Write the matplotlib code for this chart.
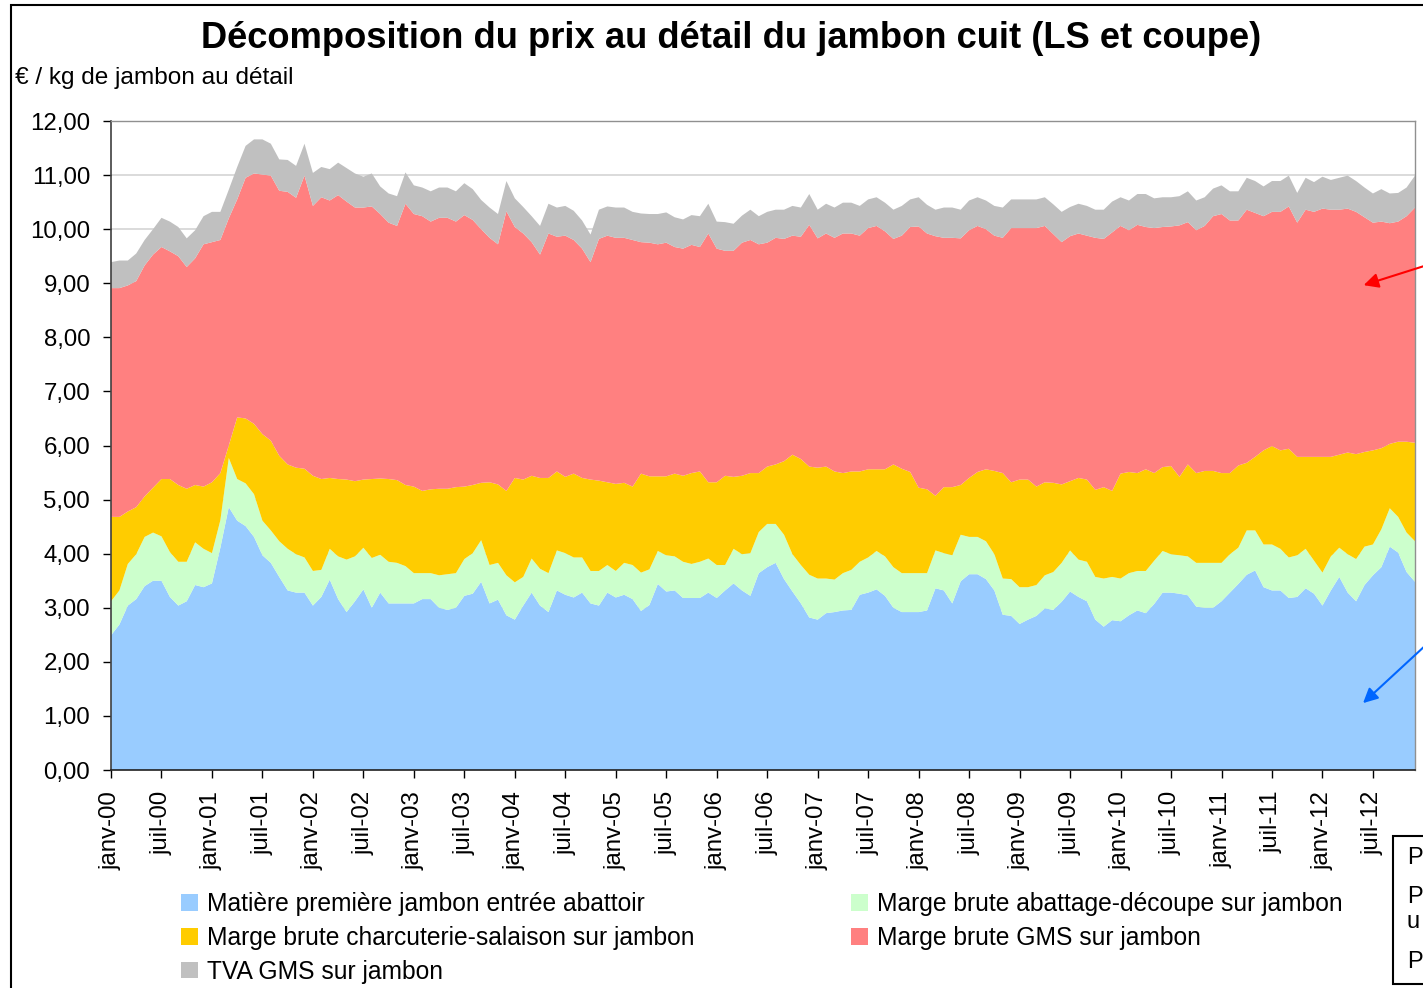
import matplotlib
matplotlib.use("Agg")
import matplotlib.pyplot as plt
from matplotlib.patches import Rectangle
import numpy as np

plt.rcParams['font.family'] = ['Liberation Sans', 'DejaVu Sans']

# Monthly data, janv-00 .. déc-12 (cumulative tops)
blue_top = [2.49, 2.69, 3.04, 3.16, 3.40, 3.50, 3.50, 3.20, 3.04, 3.12, 3.42, 3.38,
            3.45, 4.11, 4.86, 4.61, 4.51, 4.31, 3.97, 3.83, 3.57, 3.32, 3.28, 3.28,
            3.04, 3.20, 3.52, 3.16, 2.92, 3.12, 3.34, 3.00, 3.28, 3.08, 3.08, 3.08,
            3.08, 3.16, 3.16, 3.00, 2.96, 3.00, 3.22, 3.26, 3.48, 3.08, 3.15, 2.86,
            2.78, 3.04, 3.28, 3.04, 2.92, 3.32, 3.24, 3.19, 3.28, 3.08, 3.04, 3.28,
            3.19, 3.24, 3.16, 2.94, 3.05, 3.44, 3.30, 3.32, 3.18, 3.18, 3.18, 3.28,
            3.18, 3.32, 3.45, 3.32, 3.22, 3.64, 3.75, 3.83, 3.53, 3.30, 3.08, 2.82,
            2.78, 2.90, 2.92, 2.95, 2.96, 3.24, 3.28, 3.34, 3.22, 3.00, 2.92, 2.92,
            2.92, 2.95, 3.36, 3.32, 3.08, 3.49, 3.62, 3.62, 3.53, 3.32, 2.87, 2.85,
            2.70, 2.78, 2.85, 2.99, 2.96, 3.11, 3.30, 3.20, 3.12, 2.78, 2.65, 2.77,
            2.75, 2.86, 2.95, 2.90, 3.07, 3.28, 3.28, 3.26, 3.23, 3.02, 3.00, 3.00,
            3.12, 3.28, 3.44, 3.61, 3.69, 3.38, 3.32, 3.32, 3.18, 3.20, 3.36, 3.26,
            3.04, 3.32, 3.57, 3.28, 3.12, 3.42, 3.60, 3.75, 4.13, 4.02, 3.66, 3.48]

green_top = [3.12, 3.32, 3.81, 3.99, 4.31, 4.39, 4.32, 4.03, 3.85, 3.85, 4.21, 4.09,
             4.01, 4.62, 5.77, 5.38, 5.30, 5.10, 4.61, 4.43, 4.23, 4.09, 3.99, 3.93,
             3.68, 3.70, 4.09, 3.95, 3.89, 3.95, 4.11, 3.92, 3.98, 3.85, 3.83, 3.77,
             3.64, 3.64, 3.64, 3.60, 3.62, 3.64, 3.90, 4.01, 4.25, 3.79, 3.83, 3.60,
             3.47, 3.57, 3.91, 3.72, 3.64, 4.06, 4.01, 3.93, 3.93, 3.68, 3.68, 3.79,
             3.68, 3.83, 3.79, 3.65, 3.71, 4.05, 3.97, 3.95, 3.85, 3.81, 3.85, 3.91,
             3.79, 3.79, 4.09, 3.99, 4.01, 4.40, 4.55, 4.55, 4.35, 3.99, 3.79, 3.61,
             3.54, 3.54, 3.52, 3.64, 3.70, 3.85, 3.93, 4.05, 3.95, 3.75, 3.64, 3.64,
             3.64, 3.64, 4.06, 4.01, 3.97, 4.35, 4.31, 4.31, 4.23, 3.99, 3.54, 3.53,
             3.38, 3.38, 3.42, 3.60, 3.66, 3.83, 4.06, 3.89, 3.85, 3.57, 3.54, 3.57,
             3.54, 3.64, 3.68, 3.68, 3.87, 4.05, 3.99, 3.97, 3.95, 3.83, 3.83, 3.83,
             3.83, 3.99, 4.11, 4.43, 4.43, 4.17, 4.17, 4.09, 3.93, 3.97, 4.09, 3.87,
             3.65, 3.95, 4.11, 3.99, 3.90, 4.13, 4.17, 4.45, 4.84, 4.68, 4.39, 4.23]

yellow_top = [4.68, 4.68, 4.78, 4.86, 5.06, 5.22, 5.38, 5.38, 5.27, 5.20, 5.27, 5.24,
              5.32, 5.49, 6.00, 6.52, 6.50, 6.40, 6.21, 6.09, 5.81, 5.65, 5.59, 5.57,
              5.44, 5.38, 5.40, 5.38, 5.37, 5.34, 5.37, 5.38, 5.39, 5.38, 5.36, 5.27,
              5.24, 5.16, 5.19, 5.20, 5.20, 5.23, 5.24, 5.27, 5.31, 5.32, 5.28, 5.16,
              5.40, 5.37, 5.44, 5.40, 5.40, 5.52, 5.42, 5.48, 5.40, 5.37, 5.35, 5.32,
              5.29, 5.31, 5.24, 5.48, 5.43, 5.43, 5.43, 5.48, 5.44, 5.49, 5.52, 5.32,
              5.32, 5.44, 5.42, 5.44, 5.49, 5.49, 5.61, 5.65, 5.71, 5.83, 5.75, 5.61,
              5.59, 5.61, 5.52, 5.49, 5.52, 5.52, 5.56, 5.56, 5.56, 5.65, 5.57, 5.51,
              5.22, 5.19, 5.07, 5.23, 5.23, 5.27, 5.40, 5.51, 5.56, 5.53, 5.49, 5.32,
              5.37, 5.37, 5.24, 5.32, 5.31, 5.28, 5.34, 5.40, 5.37, 5.18, 5.23, 5.16,
              5.48, 5.51, 5.49, 5.56, 5.49, 5.60, 5.62, 5.42, 5.65, 5.49, 5.53, 5.53,
              5.49, 5.49, 5.63, 5.68, 5.79, 5.91, 5.99, 5.91, 5.94, 5.79, 5.79, 5.79,
              5.79, 5.79, 5.83, 5.87, 5.84, 5.88, 5.91, 5.95, 6.03, 6.07, 6.07, 6.05]

red_top = [8.91, 8.91, 8.96, 9.04, 9.33, 9.53, 9.67, 9.59, 9.50, 9.30, 9.46, 9.72,
           9.76, 9.80, 10.20, 10.55, 10.95, 11.03, 11.01, 10.99, 10.71, 10.69, 10.58, 10.99,
           10.43, 10.59, 10.53, 10.63, 10.51, 10.40, 10.40, 10.42, 10.28, 10.12, 10.06, 10.47,
           10.28, 10.24, 10.14, 10.21, 10.21, 10.14, 10.26, 10.17, 10.00, 9.84, 9.72, 10.33,
           10.04, 9.92, 9.76, 9.53, 9.92, 9.86, 9.88, 9.80, 9.64, 9.39, 9.82, 9.88,
           9.84, 9.84, 9.80, 9.76, 9.75, 9.72, 9.75, 9.67, 9.64, 9.71, 9.67, 9.92,
           9.64, 9.60, 9.60, 9.75, 9.80, 9.72, 9.75, 9.84, 9.82, 9.88, 9.86, 10.08,
           9.83, 9.92, 9.84, 9.92, 9.92, 9.88, 10.02, 10.06, 9.96, 9.82, 9.88, 10.04,
           10.05, 9.92, 9.87, 9.84, 9.84, 9.83, 9.98, 10.06, 10.00, 9.88, 9.84, 10.02,
           10.02, 10.02, 10.02, 10.06, 9.91, 9.76, 9.87, 9.92, 9.88, 9.84, 9.82, 9.94,
           10.06, 9.98, 10.08, 10.04, 10.02, 10.04, 10.05, 10.07, 10.13, 9.98, 10.06, 10.24,
           10.28, 10.16, 10.16, 10.36, 10.30, 10.24, 10.32, 10.32, 10.42, 10.12, 10.36, 10.32,
           10.38, 10.36, 10.36, 10.38, 10.32, 10.22, 10.12, 10.14, 10.11, 10.14, 10.24, 10.40]

total_top = [9.39, 9.42, 9.42, 9.55, 9.80, 10.00, 10.21, 10.14, 10.04, 9.83, 9.98, 10.24,
             10.32, 10.32, 10.73, 11.15, 11.54, 11.66, 11.66, 11.58, 11.29, 11.28, 11.17, 11.58,
             11.04, 11.15, 11.11, 11.23, 11.13, 11.03, 10.97, 11.03, 10.79, 10.66, 10.61, 11.05,
             10.81, 10.77, 10.70, 10.77, 10.77, 10.70, 10.85, 10.74, 10.54, 10.40, 10.28, 10.89,
             10.57, 10.41, 10.24, 10.06, 10.47, 10.40, 10.43, 10.34, 10.16, 9.90, 10.36, 10.42,
             10.40, 10.40, 10.32, 10.29, 10.28, 10.28, 10.31, 10.22, 10.18, 10.26, 10.24, 10.47,
             10.14, 10.13, 10.10, 10.25, 10.36, 10.24, 10.32, 10.36, 10.36, 10.43, 10.40, 10.65,
             10.36, 10.47, 10.40, 10.49, 10.49, 10.43, 10.55, 10.59, 10.49, 10.36, 10.43, 10.55,
             10.59, 10.45, 10.36, 10.40, 10.40, 10.36, 10.53, 10.59, 10.53, 10.43, 10.40, 10.55,
             10.55, 10.55, 10.55, 10.59, 10.46, 10.32, 10.41, 10.47, 10.43, 10.36, 10.36, 10.51,
             10.59, 10.53, 10.65, 10.65, 10.57, 10.59, 10.59, 10.61, 10.70, 10.53, 10.59, 10.75,
             10.81, 10.70, 10.70, 10.95, 10.89, 10.79, 10.89, 10.89, 10.99, 10.67, 10.95, 10.87,
             10.97, 10.91, 10.95, 10.99, 10.89, 10.77, 10.66, 10.74, 10.66, 10.67, 10.77, 10.99]

series_labels = ["Matière première jambon entrée abattoir",
                 "Marge brute abattage-découpe sur jambon",
                 "Marge brute charcuterie-salaison sur jambon",
                 "Marge brute GMS sur jambon",
                 "TVA GMS sur jambon"]
series_colors = ["#99CCFF", "#CCFFCC", "#FFCC00", "#FF8080", "#C0C0C0"]

tick_years = ["00", "01", "02", "03", "04", "05", "06", "07", "08", "09", "10", "11", "12"]
tick_labels = []
for yy in tick_years:
    tick_labels += ["janv-" + yy, "juil-" + yy]

y_ticks = [0, 1, 2, 3, 4, 5, 6, 7, 8, 9, 10, 11, 12]

# ---- derive component series from cumulative tops
B = np.array(blue_top)
G = np.array(green_top)
Y = np.array(yellow_top)
R = np.array(red_top)
T = np.array(total_top)
components = [B, G - B, Y - G, R - Y, T - R]
months = np.arange(len(B))

W, H = 1423, 988
fig = plt.figure(figsize=(W / 100, H / 100), dpi=100)
ax = fig.add_axes([111 / W, 1 - 770 / H, (1415 - 111) / W, (770 - 121) / H])

ax.set_axisbelow(True)
ax.yaxis.grid(True, color="#D4D4D4", lw=1.2)
polys = ax.stackplot(months, *components, colors=series_colors, linewidth=0,
                     labels=series_labels)

ax.set_xlim(0, len(B) - 1)
ax.set_ylim(0, 12)
ax.set_yticks(y_ticks)
ax.set_yticklabels([f"{v:.2f}".replace(".", ",") for v in y_ticks])
ax.set_xticks(np.arange(0, 6 * len(tick_labels), 6))
ax.set_xticklabels(tick_labels, rotation=90)
ax.tick_params(axis="y", labelsize=17.3, length=6, width=1, pad=9, direction="out")
ax.tick_params(axis="x", labelsize=17.3, length=6, width=1, pad=9, direction="out")

for s in ["top", "right"]:
    ax.spines[s].set_color("#909090")
    ax.spines[s].set_linewidth(1)
ax.spines["left"].set_color("#404040")
ax.spines["bottom"].set_color("#202020")
ax.spines["left"].set_linewidth(1.2)
ax.spines["bottom"].set_linewidth(1.2)

fig.text(731 / W, 1 - 39 / H, "Décomposition du prix au détail du jambon cuit (LS et coupe)",
         ha="center", va="center", fontsize=26.2, fontweight="bold")
fig.text(15 / W, 1 - 78 / H, "€ / kg de jambon au détail", ha="left", va="center", fontsize=17.6)

# legend: column 1 = blue, yellow, gray; column 2 = green, red
order = [0, 2, 4, 1, 3]
handles = [polys[i] for i in order]
labels = [series_labels[i] for i in order]
fig.legend(handles, labels, ncol=2, loc="upper left",
           bbox_to_anchor=(181 / W, 1 - 892 / H), frameon=False, fontsize=17.7,
           handlelength=0.68, handleheight=0.68, handletextpad=0.36,
           labelspacing=0.4, columnspacing=6.4, borderaxespad=0, borderpad=0)

# chart outer border (cropped on the right and bottom)
fig.add_artist(Rectangle((11 / W, -0.1), 1.2, 1 - 5 / H + 0.1, transform=fig.transFigure,
                         fill=False, ec="black", lw=1.5))
# cropped note box in the bottom-right corner
fig.add_artist(Rectangle((1393 / W, 1 - 984 / H), 0.1, (984 - 836) / H,
                         transform=fig.transFigure, fill=True, fc="white", ec="black", lw=1.5))
for txt, yy in [("P", 858), ("P", 897), ("u", 922), ("P", 962)]:
    fig.text(1407 / W, 1 - yy / H, txt, ha="left", va="center", fontsize=17)

# arrows entering from the right edge
ax.annotate("", xy=(1361, H - 286), xycoords="figure pixels",
            xytext=(1440, H - 261), textcoords="figure pixels",
            arrowprops=dict(arrowstyle="-|>", color="#FF0000", lw=1.5, mutation_scale=22))
ax.annotate("", xy=(1361, H - 705), xycoords="figure pixels",
            xytext=(1440, H - 632), textcoords="figure pixels",
            arrowprops=dict(arrowstyle="-|>", color="#0066FF", lw=1.5, mutation_scale=22))

fig.savefig("out.png", dpi=100)
